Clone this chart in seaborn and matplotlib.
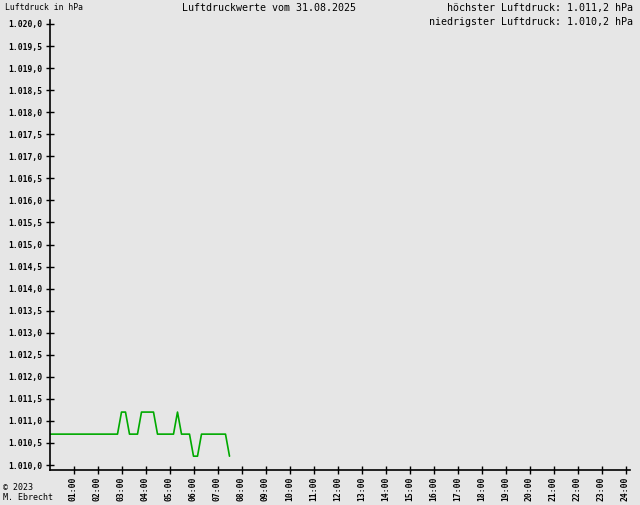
import numpy as np
import pandas as pd
import matplotlib
matplotlib.use("Agg")
import matplotlib.pyplot as plt
from matplotlib.ticker import FuncFormatter
import seaborn as sns

# Messwerte alle 10 Minuten, 00:00 bis 07:30
zeiten = [f"{h:02d}:{m:02d}" for h in range(8) for m in range(0, 60, 10)][:46]
luftdruck = ([1010.7] * 18 + [1011.2] * 2 + [1010.7] * 3 + [1011.2] * 4
             + [1010.7] * 5 + [1011.2] + [1010.7] * 3 + [1010.2] * 2
             + [1010.7] * 7 + [1010.2])
datum = "31.08.2025"
stunden_ticks = list(range(1, 25))
stunden_labels = [f"{h:02d}:00" for h in stunden_ticks]
druck_ticks = [1010.0 + 0.5 * i for i in range(21)]


def de_format(v, nachkomma=1):
    s = f"{v:,.{nachkomma}f}"
    return s.replace(",", "X").replace(".", ",").replace("X", ".")


df = pd.DataFrame({
    "zeit": [int(z[:2]) + int(z[3:]) / 60 for z in zeiten],
    "druck": luftdruck,
})

bg = "#e6e6e6"
sns.set_style("white", {"axes.facecolor": bg, "figure.facecolor": bg,
                        "text.color": "black", "xtick.color": "black", "ytick.color": "black"})
plt.rcParams["font.family"] = ["DejaVu Sans Mono", "DejaVu Sans"]

fig = plt.figure(figsize=(6.4, 5.05), dpi=100)
ax = fig.add_axes([49.5 / 640, 35 / 505, (630 - 49.5) / 640, (470 - 20) / 505])

sns.lineplot(data=df, x="zeit", y="druck", ax=ax, color="#00aa00", linewidth=1.2)

ax.set_xlim(0, (630 - 49.5) / 24)
ax.set_ylim(1010 - 5 / 44.1, 1020 + 4 / 44.1)

ax.set_xticks(stunden_ticks)
ax.set_xticklabels(stunden_labels, rotation=90, fontsize=5.8, fontweight="bold")
ax.set_yticks(druck_ticks)
ax.yaxis.set_major_formatter(FuncFormatter(lambda v, p: de_format(v)))
for lbl in ax.get_yticklabels():
    lbl.set_fontsize(5.8)
    lbl.set_fontweight("bold")
ax.tick_params(axis="both", direction="inout", length=6, width=1, color="black",
               labelcolor="black", pad=2, bottom=True, left=True)
ax.set_xlabel("")
ax.set_ylabel("")

for s in ["top", "right"]:
    ax.spines[s].set_visible(False)
for s in ["left", "bottom"]:
    ax.spines[s].set_color("black")
    ax.spines[s].set_linewidth(1.2)

fig.text(5 / 640, 1 - 8 / 505, "Luftdruck in hPa", fontsize=5.9, va="center", ha="left", color="black")
fig.text(269 / 640, 1 - 8 / 505, f"Luftdruckwerte vom {datum}", fontsize=7.2, va="center", ha="center", color="black")
fig.text(633 / 640, 1 - 8 / 505, f"höchster Luftdruck: {de_format(max(luftdruck))} hPa",
         fontsize=7.2, va="center", ha="right", color="black")
fig.text(633 / 640, 1 - 22 / 505, f"niedrigster Luftdruck: {de_format(min(luftdruck))} hPa",
         fontsize=7.2, va="center", ha="right", color="black")
fig.text(3 / 640, 1 - 487 / 505, "© 2023", fontsize=6, va="center", ha="left", color="black")
fig.text(3 / 640, 1 - 498 / 505, "M. Ebrecht", fontsize=6, va="center", ha="left", color="black")

fig.savefig("out.png", dpi=100, facecolor=bg)
